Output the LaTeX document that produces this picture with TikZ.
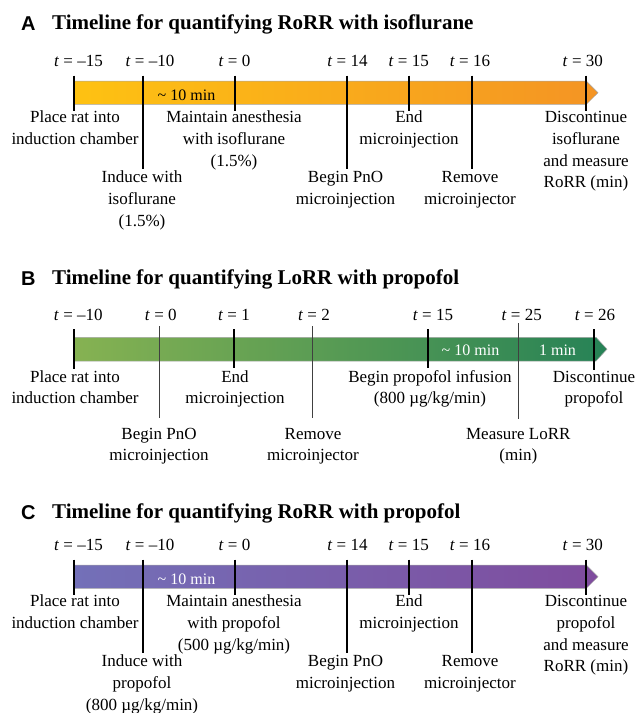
\documentclass[tikz,border=0pt]{standalone}
\usepackage{fontspec}
\setmainfont{Liberation Serif}
\newfontfamily\panelfont{Liberation Sans}
\usetikzlibrary{calc}
\definecolor{aL}{RGB}{254,194,18}
\definecolor{aR}{RGB}{244,148,36}
\definecolor{bL}{RGB}{134,178,82}
\definecolor{bM}{RGB}{108,160,84}
\definecolor{bR}{RGB}{38,130,86}
\definecolor{cL}{RGB}{115,112,184}
\definecolor{cR}{RGB}{127,76,158}
\newcommand\fstrut{\rule{0pt}{14pt}}
\tikzset{
  lbl/.style={anchor=north, inner sep=0pt, align=center, font=\fontsize{17}{21.7}\selectfont},
  tlbl/.style={anchor=base, inner sep=0pt, font=\fontsize{17}{20}\selectfont},
  ttl/.style={anchor=base west, inner sep=0pt, font=\fontsize{21}{24}\selectfont\bfseries},
  pnl/.style={anchor=base west, inner sep=0pt, font=\fontsize{20}{24}\selectfont\panelfont\bfseries},
  bigtick/.style={line width=1.8pt, black},
  smalltick/.style={line width=1pt, black!75},
  bartxt/.style={anchor=base, inner sep=0pt, font=\fontsize{16}{18}\selectfont},
  barline/.style={draw=black!35, line width=0.5pt},
}
\begin{document}
\begin{tikzpicture}[x=1pt,y=-1pt]
\useasboundingbox (0,0) rectangle (636,713);

% ================= Panel A =================
\node[pnl] (pA) at (21,30.5) {A};
\node[ttl] (hA) at (52,29.5) {Timeline for quantifying RoRR with isoflurane};
\shadedraw[left color=aL, right color=aR, barline]
  (74,81) -- (586.3,81) -- (598,92.65) -- (586.3,104.3) -- (74,104.3) -- cycle;
\node[bartxt] (mA) at (186.5,100) {\textasciitilde{} 10 min};
\node[tlbl] (tA1) at (78.5,66) {\textit{t} = –15};
\node[tlbl] (tA2) at (150,66) {\textit{t} = –10};
\node[tlbl] (tA3) at (234.5,66) {\textit{t} = 0};
\node[tlbl] (tA4) at (347.5,66) {\textit{t} = 14};
\node[tlbl] (tA5) at (408.7,66) {\textit{t} = 15};
\node[tlbl] (tA6) at (470,66) {\textit{t} = 16};
\node[tlbl] (tA7) at (582.8,66) {\textit{t} = 30};
\coordinate (kA1t) at (74,75.7);    \coordinate (kA1b) at (74,111);
\coordinate (kA2t) at (143.3,75.7); \coordinate (kA2b) at (143.3,169.3);
\coordinate (kA3t) at (235,75.7);   \coordinate (kA3b) at (235,111);
\coordinate (kA4t) at (346.7,75.7); \coordinate (kA4b) at (346.7,169.3);
\coordinate (kA5t) at (409.3,75.7); \coordinate (kA5b) at (409.3,111);
\coordinate (kA6t) at (472.3,75.7); \coordinate (kA6b) at (472.3,169.3);
\coordinate (kA7t) at (586.3,75.7); \coordinate (kA7b) at (586.3,111);
\foreach \i in {1,...,7} {\draw[bigtick] (kA\i t) -- (kA\i b);}
\node[lbl] (lA1) at (75,108.5) {\fstrut Place rat into\\induction chamber};
\node[lbl] (lA2) at (234,108.5) {\fstrut Maintain anesthesia\\with isoflurane\\(1.5\%)};
\node[lbl] (lA3) at (409,108.5) {\fstrut End\\microinjection};
\node[lbl] (lA4) at (586,108.5) {\fstrut Discontinue\\isoflurane\\and measure\\RoRR (min)};
\node[lbl] (lA5) at (142,168.5) {\fstrut Induce with\\isoflurane\\(1.5\%)};
\node[lbl] (lA6) at (345.5,168.5) {\fstrut Begin PnO\\microinjection};
\node[lbl] (lA7) at (470,168.5) {\fstrut Remove\\microinjector};

% ================= Panel B =================
\node[pnl] (pB) at (21,285) {B};
\node[ttl] (hB) at (52,284) {Timeline for quantifying LoRR with propofol};
\shadedraw[left color=bL, middle color=bM, right color=bR, barline]
  (74,337.3) -- (596,337.3) -- (607,349.15) -- (596,361) -- (74,361) -- cycle;
\node[bartxt, white] (mB1) at (470.5,355) {\textasciitilde{} 10 min};
\node[bartxt, white] (mB2) at (557.5,355) {1 min};
\node[tlbl] (tB1) at (78.3,320) {\textit{t} = –10};
\node[tlbl] (tB2) at (160.8,320) {\textit{t} = 0};
\node[tlbl] (tB3) at (234,320) {\textit{t} = 1};
\node[tlbl] (tB4) at (314,320) {\textit{t} = 2};
\node[tlbl] (tB5) at (433,320) {\textit{t} = 15};
\node[tlbl] (tB6) at (521.7,320) {\textit{t} = 25};
\node[tlbl] (tB7) at (595,320) {\textit{t} = 26};
\coordinate (kB1t) at (74,329);    \coordinate (kB1b) at (74,369);
\coordinate (kB2t) at (159.3,326); \coordinate (kB2b) at (159.3,418.3);
\coordinate (kB3t) at (233.7,329); \coordinate (kB3b) at (233.7,368);
\coordinate (kB4t) at (312.4,326); \coordinate (kB4b) at (312.4,418.3);
\coordinate (kB5t) at (428,329);   \coordinate (kB5b) at (428,368);
\coordinate (kB6t) at (518.3,323); \coordinate (kB6b) at (518.3,419);
\coordinate (kB7t) at (594,329);   \coordinate (kB7b) at (594,370);
\foreach \i in {1,3,5,7} {\draw[bigtick] (kB\i t) -- (kB\i b);}
\foreach \i in {2,4,6} {\draw[smalltick] (kB\i t) -- (kB\i b);}
\node[lbl] (lB1) at (75,368) {\fstrut Place rat into\\induction chamber};
\node[lbl] (lB2) at (235,368) {\fstrut End\\microinjection};
\node[lbl] (lB3) at (430,368) {\fstrut Begin propofol infusion\\(800 µg/kg/min)};
\node[lbl] (lB4) at (594,368) {\fstrut Discontinue\\propofol};
\node[lbl] (lB5) at (159,425) {\fstrut Begin PnO\\microinjection};
\node[lbl] (lB6) at (313,425) {\fstrut Remove\\microinjector};
\node[lbl] (lB7) at (518.3,425) {\fstrut Measure LoRR\\(min)};

% ================= Panel C =================
\node[pnl] (pC) at (21,519) {C};
\node[ttl] (hC) at (52,518) {Timeline for quantifying RoRR with propofol};
\shadedraw[left color=cL, right color=cR, barline]
  (74,565) -- (586.3,565) -- (598,576.65) -- (586.3,588.3) -- (74,588.3) -- cycle;
\node[bartxt, white] (mC) at (186.5,584) {\textasciitilde{} 10 min};
\node[tlbl] (tC1) at (78.5,550) {\textit{t} = –15};
\node[tlbl] (tC2) at (150,550) {\textit{t} = –10};
\node[tlbl] (tC3) at (234.5,550) {\textit{t} = 0};
\node[tlbl] (tC4) at (347.5,550) {\textit{t} = 14};
\node[tlbl] (tC5) at (408.7,550) {\textit{t} = 15};
\node[tlbl] (tC6) at (470,550) {\textit{t} = 16};
\node[tlbl] (tC7) at (582.8,550) {\textit{t} = 30};
\coordinate (kC1t) at (74,559.7);    \coordinate (kC1b) at (74,595);
\coordinate (kC2t) at (143.3,559.7); \coordinate (kC2b) at (143.3,653.3);
\coordinate (kC3t) at (235,559.7);   \coordinate (kC3b) at (235,595);
\coordinate (kC4t) at (346.7,559.7); \coordinate (kC4b) at (346.7,653.3);
\coordinate (kC5t) at (409.3,559.7); \coordinate (kC5b) at (409.3,595);
\coordinate (kC6t) at (472.3,559.7); \coordinate (kC6b) at (472.3,653.3);
\coordinate (kC7t) at (586.3,559.7); \coordinate (kC7b) at (586.3,595);
\foreach \i in {1,...,7} {\draw[bigtick] (kC\i t) -- (kC\i b);}
\node[lbl] (lC1) at (75,592.5) {\fstrut Place rat into\\induction chamber};
\node[lbl] (lC2) at (234,592.5) {\fstrut Maintain anesthesia\\with propofol\\(500 µg/kg/min)};
\node[lbl] (lC3) at (409,592.5) {\fstrut End\\microinjection};
\node[lbl] (lC4) at (586,592.5) {\fstrut Discontinue\\propofol\\and measure\\RoRR (min)};
\node[lbl] (lC5) at (142,652.5) {\fstrut Induce with\\propofol\\(800 µg/kg/min)};
\node[lbl] (lC6) at (345.5,652.5) {\fstrut Begin PnO\\microinjection};
\node[lbl] (lC7) at (470,652.5) {\fstrut Remove\\microinjector};
\end{tikzpicture}
\end{document}
